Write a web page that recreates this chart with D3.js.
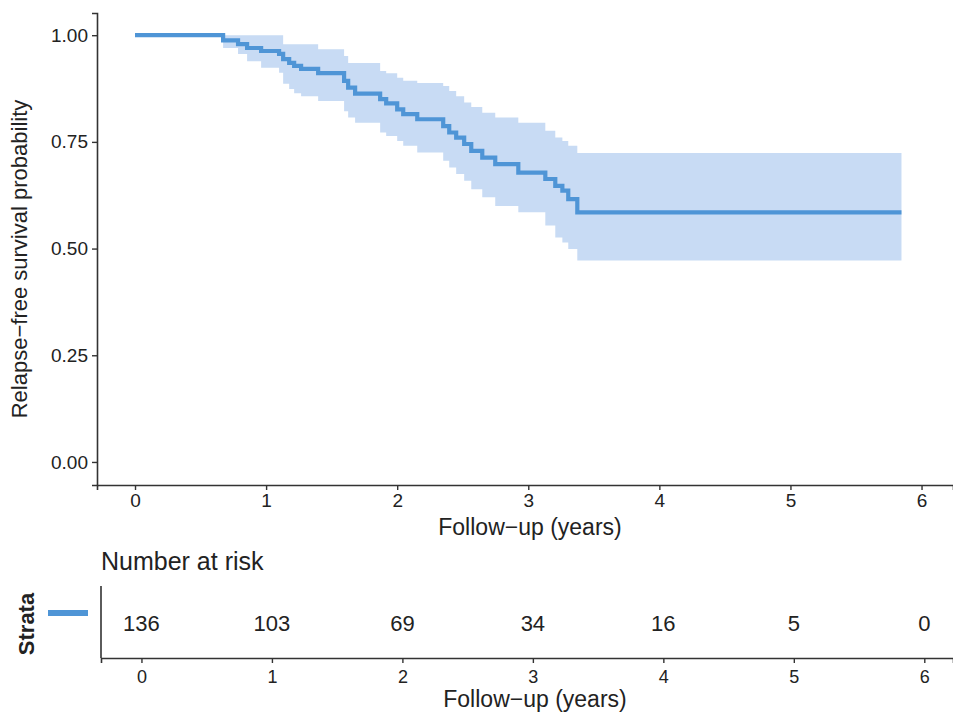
<!DOCTYPE html>
<html><head><meta charset="utf-8">
<script src="https://cdn.jsdelivr.net/npm/d3@7"></script>
<style>body{margin:0;background:#fff}svg{display:block}</style>
</head><body>
<script>
// Kaplan-Meier event table: time (years), survival, upper CI, lower CI
const times = [0, 0.672, 0.786, 0.855, 0.962, 1.099, 1.130, 1.176, 1.214, 1.267, 1.397, 1.595, 1.626, 1.679, 1.870, 1.916, 2.000, 2.046, 2.153, 2.351, 2.397, 2.450, 2.511, 2.565, 2.649, 2.748, 2.924, 3.130, 3.206, 3.260, 3.305, 3.374];
const surv  = [1, 0.988, 0.979, 0.970, 0.963, 0.956, 0.944, 0.935, 0.928, 0.921, 0.911, 0.893, 0.877, 0.863, 0.850, 0.840, 0.826, 0.815, 0.803, 0.787, 0.772, 0.760, 0.745, 0.729, 0.713, 0.698, 0.678, 0.663, 0.647, 0.636, 0.616, 0.585];
const upper = [1, 1.000, 1.000, 1.000, 1.000, 1.000, 0.979, 0.979, 0.979, 0.979, 0.967, 0.951, 0.935, 0.935, 0.916, 0.911, 0.900, 0.893, 0.888, 0.881, 0.869, 0.857, 0.842, 0.832, 0.818, 0.807, 0.795, 0.776, 0.760, 0.752, 0.741, 0.724];
const lower = [1, 0.970, 0.956, 0.939, 0.924, 0.912, 0.886, 0.874, 0.864, 0.857, 0.846, 0.822, 0.807, 0.795, 0.772, 0.764, 0.752, 0.741, 0.725, 0.706, 0.690, 0.675, 0.659, 0.639, 0.620, 0.600, 0.585, 0.554, 0.526, 0.514, 0.499, 0.472];
const endTime = 5.847;
const xTicks = [0, 1, 2, 3, 4, 5, 6];
const yTicks = [0, 0.25, 0.5, 0.75, 1];
const riskTimes = [0, 1, 2, 3, 4, 5, 6];
const riskCounts = [136, 103, 69, 34, 16, 5, 0];

const W = 953, H = 713;
const lineColor = "#4f95d6", bandColor = "#c8dbf4", axisColor = "#333";
const svg = d3.select("body").append("svg").attr("width", W).attr("height", H);

const font = "'Liberation Sans', Arial, sans-serif";

// main plot scales
const x = d3.scaleLinear().domain([-0.29, 6.24]).range([97, 953]);
const y = d3.scaleLinear().domain([-0.054, 1.052]).range([485, 13]);

const rows = times.map((t, i) => ({t, s: surv[i], u: upper[i], l: lower[i]}));
rows.push({t: endTime, s: surv[surv.length-1], u: upper[upper.length-1], l: lower[lower.length-1]});

// confidence band (starts at first event)
const bandRows = rows.slice(1);
const area = d3.area().curve(d3.curveStepAfter).x(d => x(d.t)).y0(d => y(d.l)).y1(d => y(d.u));
svg.append("path").datum(bandRows).attr("d", area).attr("fill", bandColor);

const line = d3.line().curve(d3.curveStepAfter).x(d => x(d.t)).y(d => y(d.s));
svg.append("path").datum(rows).attr("d", line).attr("fill", "none")
  .attr("stroke", lineColor).attr("stroke-width", 4.2);

// axes
const gx = svg.append("g").attr("transform", `translate(0,${y.range()[0]})`)
  .call(d3.axisBottom(x).tickValues(xTicks).tickSize(5).tickPadding(4).tickFormat(d3.format("d")));
const gy = svg.append("g").attr("transform", `translate(${x.range()[0]},0)`)
  .call(d3.axisLeft(y).tickValues(yTicks).tickSize(5).tickPadding(4).tickFormat(d3.format(".2f")));
[gx, gy].forEach(g => {
  g.select(".domain").attr("stroke", axisColor).attr("stroke-width", 1.6);
  g.selectAll(".tick line").attr("stroke", axisColor).attr("stroke-width", 1.4);
  g.selectAll(".tick text").attr("fill", "#222").style("font-family", font).style("font-size", "19px");
});

svg.append("text").attr("x", 530).attr("y", 535).attr("text-anchor", "middle")
  .style("font-family", font).style("font-size", "23px").attr("fill", "#222").text("Follow\u2212up (years)");
svg.append("text").attr("transform", "translate(27,259) rotate(-90)").attr("text-anchor", "middle")
  .style("font-family", font).style("font-size", "22px").attr("fill", "#222").text("Relapse\u2212free survival probability");

// risk table
const xr = d3.scaleLinear().domain([-0.31, 6.22]).range([101, 953]);
const rTop = 586, rBot = 658;
svg.append("text").attr("x", 101).attr("y", 570)
  .style("font-family", font).style("font-size", "25px").attr("fill", "#222").text("Number at risk");

const gxr = svg.append("g").attr("transform", `translate(0,${rBot})`)
  .call(d3.axisBottom(xr).tickValues(riskTimes).tickSize(5).tickPadding(7).tickFormat(d3.format("d")));
gxr.select(".domain").attr("stroke", axisColor).attr("stroke-width", 1.6);
gxr.selectAll(".tick line").attr("stroke", axisColor).attr("stroke-width", 1.4);
gxr.selectAll(".tick text").attr("fill", "#222").style("font-family", font).style("font-size", "18px");
svg.append("line").attr("x1", 101).attr("x2", 101).attr("y1", rTop).attr("y2", rBot)
  .attr("stroke", axisColor).attr("stroke-width", 1.6);

svg.selectAll("text.risk").data(riskCounts).join("text").attr("class", "risk")
  .attr("x", (d, i) => xr(riskTimes[i])).attr("y", 631).attr("text-anchor", "middle")
  .style("font-family", font).style("font-size", "22px").attr("fill", "#222").text(d => d);

svg.append("line").attr("x1", 48).attr("x2", 88).attr("y1", 613).attr("y2", 613)
  .attr("stroke", lineColor).attr("stroke-width", 6);
svg.append("text").attr("transform", "translate(34,624) rotate(-90)").attr("text-anchor", "middle")
  .style("font-family", font).style("font-size", "22px").style("font-weight", "bold").attr("fill", "#222").text("Strata");

svg.append("text").attr("x", 535).attr("y", 707).attr("text-anchor", "middle")
  .style("font-family", font).style("font-size", "23px").attr("fill", "#222").text("Follow\u2212up (years)");
</script>
</body></html>
